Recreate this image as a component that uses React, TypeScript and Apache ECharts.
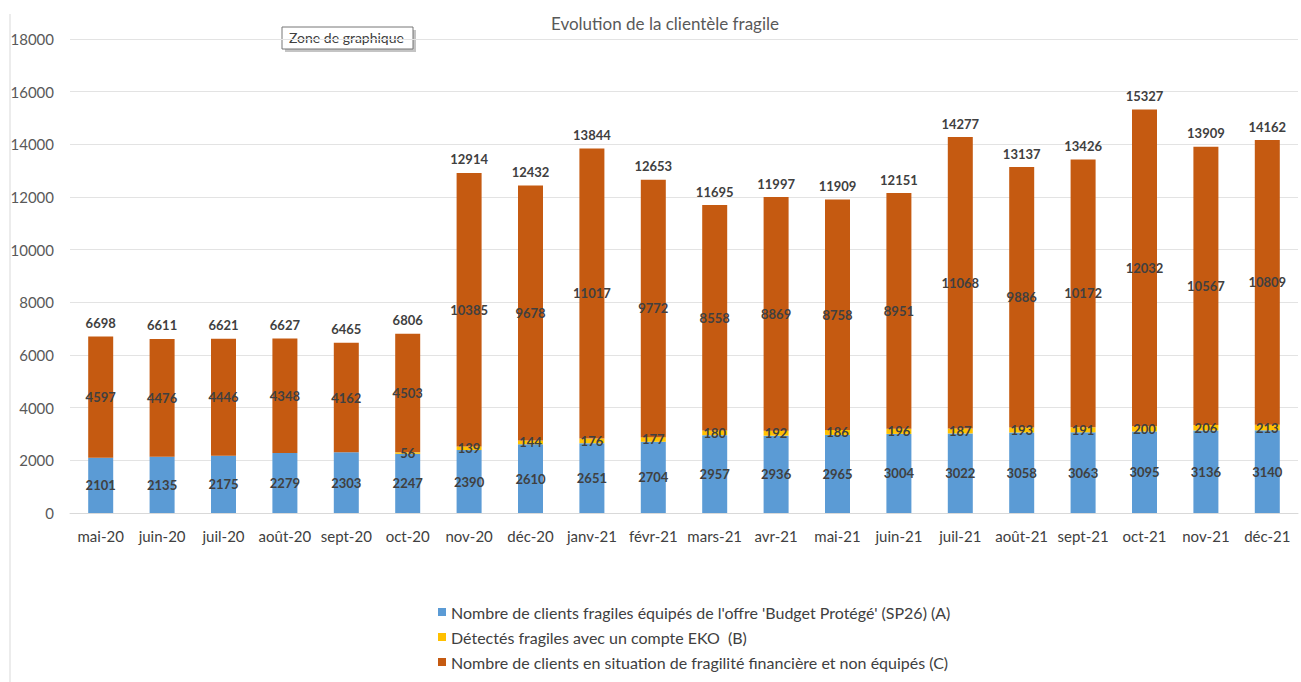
import React, { useEffect, useRef } from "react";
import * as echarts from "echarts";

const categories = [
  "mai-20", "juin-20", "juil-20", "août-20", "sept-20", "oct-20", "nov-20", "déc-20",
  "janv-21", "févr-21", "mars-21", "avr-21", "mai-21", "juin-21", "juil-21", "août-21",
  "sept-21", "oct-21", "nov-21", "déc-21",
];
const seriesA = [2101, 2135, 2175, 2279, 2303, 2247, 2390, 2610, 2651, 2704, 2957, 2936, 2965, 3004, 3022, 3058, 3063, 3095, 3136, 3140];
const seriesB: (number | null)[] = [null, null, null, null, null, 56, 139, 144, 176, 177, 180, 192, 186, 196, 187, 193, 191, 200, 206, 213];
const seriesC = [4597, 4476, 4446, 4348, 4162, 4503, 10385, 9678, 11017, 9772, 8558, 8869, 8758, 8951, 11068, 9886, 10172, 12032, 10567, 10809];
const totals = [6698, 6611, 6621, 6627, 6465, 6806, 12914, 12432, 13844, 12653, 11695, 11997, 11909, 12151, 14277, 13137, 13426, 15327, 13909, 14162];
const yTicks = { min: 0, max: 18000, interval: 2000 };

const nameA = "Nombre de clients fragiles équipés de l'offre 'Budget Protégé' (SP26) (A)";
const nameB = "Détectés fragiles avec un compte EKO  (B)";
const nameC = "Nombre de clients en situation de fragilité financière et non équipés (C)";

const FONT = "Lato, 'Liberation Sans', sans-serif";

export default function App() {
  const ref = useRef<HTMLDivElement>(null);
  useEffect(() => {
    if (!ref.current) return;
    const chart = echarts.init(ref.current, null, { renderer: "svg" });
    const innerLabel = {
      show: true,
      position: "inside" as const,
      color: "#404040",
      fontSize: 13,
      fontWeight: "bold" as const,
      fontFamily: FONT,
    };
    chart.setOption({
      animation: false,
      backgroundColor: "#ffffff",
      textStyle: { fontFamily: FONT },
      title: {
        text: "Evolution de la clientèle fragile",
        left: 660,
        top: 10,
        textAlign: "center",
        textStyle: { fontSize: 17, fontWeight: "normal", color: "#595959", fontFamily: FONT },
      },
      grid: { left: 70, right: 3, top: 39, bottom: 169, containLabel: false },
      legend: {
        data: [nameA, nameB, nameC],
        orient: "vertical",
        left: 433,
        top: 599,
        itemWidth: 8,
        itemHeight: 8,
        itemGap: 9,
        icon: "rect",
        textStyle: { fontSize: 16, color: "#404040", fontFamily: FONT },
      },
      xAxis: {
        type: "category",
        data: categories,
        axisLine: { lineStyle: { color: "#d9d9d9" } },
        axisTick: { show: false },
        axisLabel: { interval: 0, fontSize: 15, color: "#404040", margin: 15, fontFamily: FONT },
      },
      yAxis: {
        type: "value",
        min: yTicks.min,
        max: yTicks.max,
        interval: yTicks.interval,
        axisLine: { show: false },
        axisTick: { show: false },
        axisLabel: {
          fontSize: 15,
          color: "#595959",
          margin: 16,
          fontFamily: FONT,
          formatter: (v: number) => String(v),
        },
        splitLine: { lineStyle: { color: "#e3e3e3" } },
      },
      series: [
        {
          name: nameA,
          type: "bar",
          stack: "s",
          barWidth: 25,
          data: seriesA,
          itemStyle: { color: "#5B9BD5" },
          label: innerLabel,
        },
        {
          name: nameB,
          type: "bar",
          stack: "s",
          barWidth: 25,
          data: seriesB,
          itemStyle: { color: "#FFC000" },
          label: innerLabel,
        },
        {
          name: nameC,
          type: "bar",
          stack: "s",
          barWidth: 25,
          data: seriesC,
          itemStyle: { color: "#C55A11" },
          label: innerLabel,
        },
        {
          name: "Total",
          type: "bar",
          barWidth: 25,
          barGap: "-100%",
          data: totals,
          z: 1,
          silent: true,
          itemStyle: { color: "rgba(0,0,0,0)" },
          label: {
            show: true,
            position: "top",
            distance: 7,
            color: "#404040",
            fontSize: 13,
            fontWeight: "bold",
            fontFamily: FONT,
          },
        },
      ],
      graphic: [
        {
          type: "line",
          shape: { x1: 10, y1: 14, x2: 10, y2: 682 },
          style: { stroke: "#d9d9d9", lineWidth: 1 },
        },
        {
          type: "rect",
          shape: { x: 285, y: 30, width: 131, height: 22 },
          style: { fill: "#c4c4c4" },
        },
        {
          type: "rect",
          shape: { x: 282, y: 27, width: 131, height: 22 },
          style: { fill: "#ffffff", stroke: "#767676", lineWidth: 1 },
        },
        {
          type: "text",
          x: 289,
          y: 30,
          style: {
            text: "Zone de graphique",
            fill: "#404040",
            fontSize: 14,
            fontFamily: FONT,
            align: "left",
            verticalAlign: "top",
          },
        },
      ],
    });
    return () => chart.dispose();
  }, []);
  return (
    <div
      ref={ref}
      style={{ position: "fixed", left: 0, top: 0, width: 1301, height: 682, background: "#fff" }}
    />
  );
}
